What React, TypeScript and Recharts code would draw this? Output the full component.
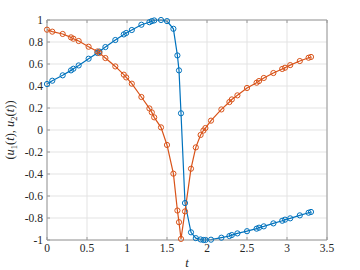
import { LineChart, Line, XAxis, YAxis, CartesianGrid } from 'recharts'

const tValues = [
  0, 0.066, 0.196, 0.3, 0.33, 0.396, 0.52, 0.63, 0.655, 0.73, 0.854, 0.96, 0.99, 1.06, 1.18, 1.28,
  1.31, 1.34, 1.425, 1.5, 1.58, 1.63, 1.65, 1.675, 1.725, 1.8, 1.86, 1.92, 1.955, 1.98, 2.05, 2.18,
  2.28, 2.31, 2.38, 2.5, 2.62, 2.65, 2.71, 2.83, 2.94, 2.975, 3.04, 3.16, 3.27, 3.3,
]

const u1Values = [
  0.418, 0.448, 0.497, 0.542, 0.557, 0.587, 0.648, 0.7, 0.713, 0.754, 0.818, 0.869, 0.882, 0.909,
  0.957, 0.98, 0.99, 0.996, 1.0, 0.99, 0.92, 0.678, 0.542, 0.152, -0.664, -0.93, -0.983, -0.995,
  -1.0, -1.0, -0.997, -0.979, -0.964, -0.955, -0.94, -0.92, -0.897, -0.888, -0.876, -0.849, -0.825,
  -0.815, -0.803, -0.776, -0.752, -0.745,
]

const u2Values = [
  0.912, 0.894, 0.873, 0.842, 0.83, 0.809, 0.757, 0.714, 0.7, 0.654, 0.578, 0.503, 0.478, 0.421,
  0.3, 0.196, 0.16, 0.115, 0.024, -0.136, -0.397, -0.732, -0.838, -0.99, -0.74, -0.352, -0.158,
  -0.045, -0.005, 0.018, 0.085, 0.187, 0.254, 0.278, 0.315, 0.382, 0.43, 0.445, 0.473, 0.518, 0.555,
  0.566, 0.59, 0.627, 0.657, 0.664,
]

const xTicks = [0, 0.5, 1, 1.5, 2, 2.5, 3, 3.5]
const yTicks = [-1, -0.8, -0.6, -0.4, -0.2, 0, 0.2, 0.4, 0.6, 0.8, 1]

const data = tValues.map((t, i) => ({ t, u1: u1Values[i], u2: u2Values[i] }))

const axisColor = '#9a9a9a'
const textColor = '#262626'
const font = '"Liberation Serif", "Times New Roman", serif'

function XTick({ x, y, payload }: any) {
  return (
    <text x={x} y={y} dy="0.75em" textAnchor="middle" fill={textColor} fontSize={11.5} fontFamily={font}>
      {payload.value}
    </text>
  )
}

function YTick({ x, y, payload }: any) {
  return (
    <text x={x} y={y} dy="0.35em" textAnchor="end" fill={textColor} fontSize={11.5} fontFamily={font}>
      {payload.value}
    </text>
  )
}

function YLabel({ viewBox }: any) {
  const cx = viewBox.x + 14
  const cy = viewBox.y + viewBox.height / 2
  return (
    <text
      x={cx}
      y={cy}
      transform={`rotate(-90, ${cx}, ${cy})`}
      textAnchor="middle"
      fill={textColor}
      fontSize={12.5}
      fontFamily={font}
    >
      <tspan>(</tspan>
      <tspan fontStyle="italic">u</tspan>
      <tspan fontSize={8.5} dy={3}>1</tspan>
      <tspan dy={-3}>(</tspan>
      <tspan fontStyle="italic">t</tspan>
      <tspan>), </tspan>
      <tspan fontStyle="italic">u</tspan>
      <tspan fontSize={8.5} dy={3}>2</tspan>
      <tspan dy={-3}>(</tspan>
      <tspan fontStyle="italic">t</tspan>
      <tspan>))</tspan>
    </text>
  )
}

function XLabel({ viewBox }: any) {
  return (
    <text
      x={viewBox.x + viewBox.width / 2}
      y={viewBox.y + 27}
      textAnchor="middle"
      fill={textColor}
      fontSize={12.5}
      fontStyle="italic"
      fontFamily={font}
    >
      t
    </text>
  )
}

export default function App() {
  return (
    <div style={{ position: 'absolute', left: 0, top: 0, background: '#fff', fontFamily: font }}>
      <LineChart width={360} height={270} data={data} margin={{ top: 0, right: 0, bottom: 0, left: 0 }}>
        <CartesianGrid stroke="#e3e3e3" horizontalValues={yTicks} verticalValues={xTicks} />
        <XAxis
          dataKey="t"
          type="number"
          domain={[0, 3.5]}
          ticks={xTicks}
          interval={0}
          height={30}
          tickSize={-3}
          tickMargin={6}
          tick={<XTick />}
          tickLine={{ stroke: axisColor }}
          axisLine={{ stroke: axisColor }}
          label={<XLabel />}
        />
        <XAxis
          xAxisId="top"
          dataKey="t"
          orientation="top"
          type="number"
          domain={[0, 3.5]}
          ticks={xTicks}
          interval={0}
          height={20}
          tickSize={-3}
          tickFormatter={() => ''}
          tickLine={{ stroke: axisColor }}
          axisLine={{ stroke: axisColor }}
        />
        <YAxis
          type="number"
          domain={[-1, 1]}
          ticks={yTicks}
          interval={0}
          width={47}
          tickSize={-3}
          tickMargin={7}
          tick={<YTick />}
          tickLine={{ stroke: axisColor }}
          axisLine={{ stroke: axisColor }}
          label={<YLabel />}
        />
        <YAxis
          yAxisId="right"
          orientation="right"
          type="number"
          domain={[-1, 1]}
          ticks={yTicks}
          interval={0}
          width={33}
          tickSize={-3}
          tickFormatter={() => ''}
          tickLine={{ stroke: axisColor }}
          axisLine={{ stroke: axisColor }}
        />
        <Line
          dataKey="u1"
          stroke="#0072BD"
          strokeWidth={1.2}
          dot={{ r: 2.6, stroke: '#0072BD', strokeWidth: 1, fill: 'none' }}
          isAnimationActive={false}
        />
        <Line
          dataKey="u2"
          stroke="#D95319"
          strokeWidth={1.2}
          dot={{ r: 2.6, stroke: '#D95319', strokeWidth: 1, fill: 'none' }}
          isAnimationActive={false}
        />
      </LineChart>
    </div>
  )
}
